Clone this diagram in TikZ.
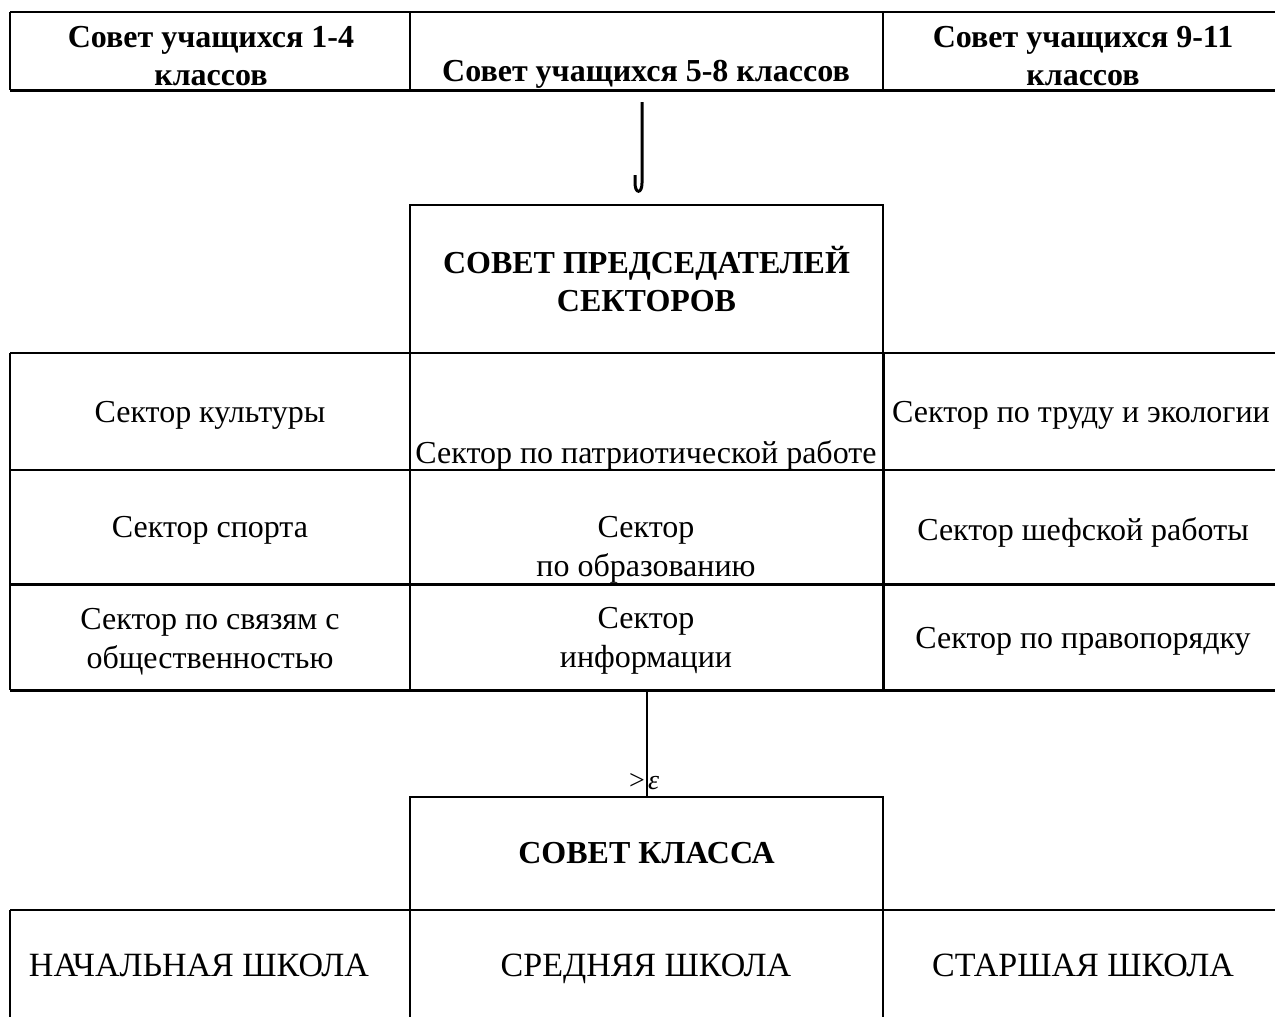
\documentclass[tikz,border=0pt]{standalone}
\usepackage{fontspec}
\setmainfont{Liberation Serif}
\usetikzlibrary{calc}

\tikzset{
	txt/.style={inner sep=0pt, align=center, font=\fontsize{32}{39}\selectfont},
	btxt/.style={txt, font=\fontsize{32}{38}\selectfont\bfseries},
	school/.style={inner sep=0pt, text height=24pt, text depth=8pt, font=\fontsize{34}{40}\selectfont},
	box/.style={inner sep=0pt, minimum width=473pt, align=center},
	grid/.style={line width=1.8pt},
	heavy/.style={line width=3pt},
}

\begin{document}
\begin{tikzpicture}[x=1pt,y=-1pt]
	\useasboundingbox (0,0) rectangle (1275,1017);
	
	%header
	\node[btxt] (s14)  at (211,56)  {Совет учащихся 1-4\\классов};
	\node[btxt] (s58)  at (646,74)  {Совет учащихся 5-8 классов};
	\node[btxt] (s911) at (1083,56) {Совет учащихся 9-11\\классов};
	
	%boxes
	\node[box, minimum height=148pt, btxt] (cps) at (646.5,279) {СОВЕТ ПРЕДСЕДАТЕЛЕЙ\\СЕКТОРОВ};
	\node[box, minimum height=113pt, btxt] (sk)  at (646.5,853.5) {СОВЕТ КЛАССА};
	
	%sectors
	\node[txt] (kult)  at (210,415)  {Сектор культуры};
	\node[txt] (patr)  at (646,455)  {Сектор по патриотической работе};
	\node[txt] (trud)  at (1081,415) {Сектор по труду и экологии};
	\node[txt] (sport) at (210,530)  {Сектор спорта};
	\node[txt] (obr)   at (646,550)  {Сектор\\по образованию};
	\node[txt] (shef)  at (1083,532) {Сектор шефской работы};
	\node[txt] (svyaz) at (210,642)  {Сектор по связям с\\общественностью};
	\node[txt] (info)  at (646,641)  {Сектор\\информации};
	\node[txt] (prav)  at (1083,641) {Сектор по правопорядку};
	
	%schools
	\node[school] (nach) at (199,968)  {НАЧАЛЬНАЯ ШКОЛА};
	\node[school] (sred) at (646,968)  {СРЕДНЯЯ ШКОЛА};
	\node[school] (star) at (1083,968) {СТАРШАЯ ШКОЛА};
	
	%header lines
	\draw[grid] (10,12)--(1275,12);
	\draw[heavy] (10,90)--(1275,90);
	\draw[grid] (10,12)--(10,90);
	\draw[grid] (410,12)--(410,90);
	\draw[grid] (883,12)--(883,90);
	
	%box lines
	\draw[grid] (cps.south west) |- (cps.north east) -- (cps.south east);
	\draw[grid] (sk.south west) |- (sk.north east) -- (sk.south east);
	
	%table lines
	\draw[grid] (10,353)--(1275,353);
	\draw[grid] (10,470)--(1275,470);
	\draw[heavy] (10,584)--(1275,584);
	\draw[heavy] (10,690)--(1275,690);
	\draw[grid] (10,353)--(10,690);
	\draw[grid] (410,353)--(410,690);
	\draw[heavy] (883,353)--(883,690);
	
	%school lines
	\draw[grid] (10,910)--(1275,910);
	\draw[grid] (10,910)--(10,1017);
	\draw[grid] (410,910)--(410,1017);
	\draw[grid] (883,910)--(883,1017);
	
	%arrow s58 -> cps
	\coordinate (jtop) at (642,102);
	\coordinate (jbot) at (642,183);
	\draw[heavy] (jtop)--(jbot) .. controls (642,194) and (635,194) .. (635,183) -- (635,175);
	
	%connector table -> sk
	\coordinate (tab) at (647,690);
	\draw[grid] (tab)--(tab |- sk.north);
	\node[inner sep=0pt, anchor=east, font=\fontsize{28}{30}\selectfont] (gt) at (645,781) {>};
	\node[inner sep=0pt, anchor=west, font=\fontsize{28}{30}\selectfont\itshape] (eps) at (648,783) {ε};
	
\end{tikzpicture}
\end{document}
